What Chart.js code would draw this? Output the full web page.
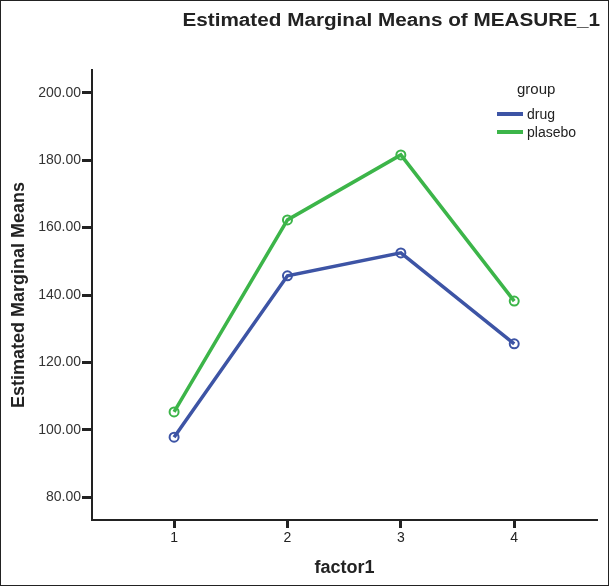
<!DOCTYPE html>
<html>
<head>
<meta charset="utf-8">
<script src="https://cdn.jsdelivr.net/npm/chart.js@4"></script>
<style>
  html, body { margin: 0; padding: 0; background: #fff; }
  #wrap { width: 609px; height: 586px; }
</style>
</head>
<body>
<div id="wrap"><canvas id="emmChart" width="609" height="586"></canvas></div>
<script>
/* ============================
   DATOS
============================ */
const FACTOR1 = [1, 2, 3, 4];
const DRUG    = [97.8, 145.7, 152.5, 125.5];
const PLASEBO = [105.3, 162.3, 181.6, 138.2];
const Y_TICKS = [80, 100, 120, 140, 160, 180, 200];
const X_TICKS = [1, 2, 3, 4];
const GROUPS  = ["drug", "plasebo"];

const BLUE  = "#3d54a5";
const GREEN = "#3cb549";
const INK   = "#222";
const FONT  = "'Liberation Sans', Arial, sans-serif";

function puntos(vals) {
    return FACTOR1.map((f, i) => ({ x: f, y: vals[i] }));
}

/* ============================
   PLUGIN: marco, titulo, leyenda
============================ */
const spssDecor = {
    id: "spssDecor",
    beforeDraw(chart) {
        const ctx = chart.ctx;
        ctx.save();
        ctx.fillStyle = "#fff";
        ctx.fillRect(0, 0, chart.width, chart.height);
        ctx.restore();
    },
    afterDraw(chart) {
        const ctx = chart.ctx;
        ctx.save();
        // marco exterior
        ctx.strokeStyle = INK;
        ctx.lineWidth = 1;
        ctx.strokeRect(0.5, 0.5, chart.width - 1, chart.height - 1);

        // titulo (SPSS lo dibuja algo mas ancho)
        ctx.save();
        ctx.fillStyle = INK;
        ctx.font = `bold 18px ${FONT}`;
        ctx.textAlign = "right";
        ctx.textBaseline = "middle";
        ctx.translate(600, 21);
        ctx.scale(1.15, 1);
        ctx.fillText("Estimated Marginal Means of MEASURE_1", 0, 0);
        ctx.restore();

        // leyenda
        ctx.fillStyle = INK;
        ctx.font = `15px ${FONT}`;
        ctx.textAlign = "left";
        ctx.textBaseline = "middle";
        ctx.fillText("group", 517, 90);
        const colores = [BLUE, GREEN];
        const ys = [114, 132];
        ctx.font = `14px ${FONT}`;
        GROUPS.forEach((g, i) => {
            ctx.strokeStyle = colores[i];
            ctx.lineWidth = 4;
            ctx.beginPath();
            ctx.moveTo(497, ys[i]);
            ctx.lineTo(523, ys[i]);
            ctx.stroke();
            ctx.fillStyle = INK;
            ctx.fillText(g, 527, ys[i] + 1);
        });
        ctx.restore();
    }
};

/* ============================
   CHART
============================ */
const serie = (label, vals, color) => ({
    label,
    data: puntos(vals),
    borderColor: color,
    backgroundColor: "rgba(0,0,0,0)",
    borderWidth: 3.5,
    pointRadius: 4.5,
    pointBorderWidth: 2,
    pointBorderColor: color,
    pointBackgroundColor: "rgba(0,0,0,0)",
    tension: 0
});

new Chart(document.getElementById("emmChart").getContext("2d"), {
    type: "line",
    data: {
        datasets: [
            serie(GROUPS[0], DRUG, BLUE),
            serie(GROUPS[1], PLASEBO, GREEN)
        ]
    },
    options: {
        responsive: false,
        animation: false,
        devicePixelRatio: 1,
        layout: { padding: { top: 70, right: 12, left: 0, bottom: 0 } },
        plugins: {
            legend: { display: false },
            title: { display: false },
            tooltip: { enabled: false }
        },
        scales: {
            x: {
                type: "linear",
                min: 0.276,
                max: 4.73,
                afterBuildTicks: s => { s.ticks = X_TICKS.map(v => ({ value: v })); },
                afterFit: s => { s.height = 66; },
                grid: {
                    display: true,
                    drawOnChartArea: false,
                    drawTicks: true,
                    tickLength: 8,
                    tickWidth: 3,
                    tickColor: INK
                },
                border: { display: true, color: INK, width: 2 },
                ticks: {
                    color: INK,
                    padding: 2,
                    font: { family: FONT, size: 14 },
                    callback: v => String(v)
                },
                title: {
                    display: true,
                    text: "factor1",
                    color: INK,
                    padding: { top: 0, bottom: 7 },
                    font: { family: FONT, size: 18, weight: "bold" }
                }
            },
            y: {
                min: 73.2,
                max: 206.8,
                afterBuildTicks: s => { s.ticks = Y_TICKS.map(v => ({ value: v })); },
                afterFit: s => { s.width = 92; },
                grid: {
                    display: true,
                    drawOnChartArea: false,
                    drawTicks: true,
                    tickLength: 10,
                    tickWidth: 3,
                    tickColor: INK
                },
                border: { display: true, color: INK, width: 2 },
                ticks: {
                    color: "#333",
                    padding: 1,
                    font: { family: FONT, size: 14 },
                    callback: v => Number(v).toFixed(2)
                },
                title: {
                    display: true,
                    text: "Estimated Marginal Means",
                    color: INK,
                    padding: { top: 8, bottom: 0 },
                    font: { family: FONT, size: 18, weight: "bold" }
                }
            }
        }
    },
    plugins: [spssDecor]
});
</script>
</body>
</html>
